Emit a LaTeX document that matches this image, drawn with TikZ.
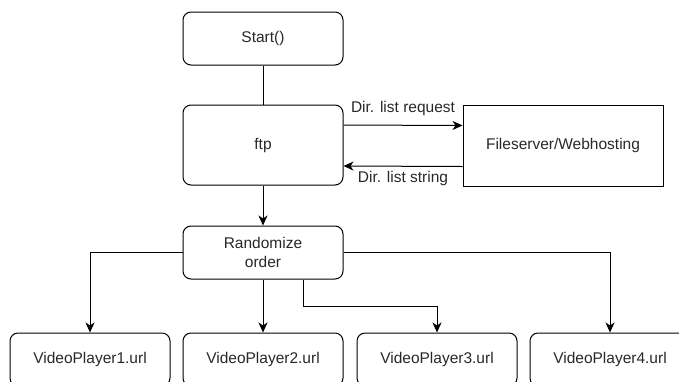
\documentclass[tikz,border=0pt]{standalone}
\usepackage{fontspec}
\setmainfont{Liberation Sans}
\usetikzlibrary{arrows.meta}

\definecolor{txt}{RGB}{40,40,40}
\tikzset{
  blk/.style={draw, rounded corners=8pt, line width=1pt, minimum width=160pt, minimum height=53pt,
              align=center, text=txt, font=\fontsize{15.5}{19}\selectfont, inner sep=0pt},
  srv/.style={blk, rounded corners=0pt, minimum width=200pt, minimum height=81pt},
  lbl/.style={text=txt, font=\fontsize{15.5}{19}\selectfont, inner sep=0pt},
  arr/.style={line width=1pt, -{Stealth[length=10pt, width=9pt, inset=3pt]}}
}

\begin{document}
\begin{tikzpicture}[x=1pt, y=-1pt]
  \useasboundingbox (0,0) rectangle (679,381);
  \clip (0,0) rectangle (679,381);
  % upper part
  \node[blk] (start) at (263,38.5) {Start()};
  \node[blk, minimum height=80pt] (ftp) at (263,145) {ftp};
  \node[srv] (fs) at (563,145.5) {Fileserver/Webhosting};
  \node[blk] (rand) at (263,252.5) {Randomize\\order};
  % players
  \node[blk] (vp1) at (90,359.5) {VideoPlayer1.url};
  \node[blk] (vp2) at (263,359.5) {VideoPlayer2.url};
  \node[blk] (vp3) at (437,359.5) {VideoPlayer3.url};
  \node[blk] (vp4) at (610,359.5) {VideoPlayer4.url};
  % connectors
  \draw[line width=1pt] (start) -- (ftp);
  \draw[arr] ([yshift=20pt]ftp.east) -- ([yshift=20pt]fs.west)
    node[lbl, midway, above=9pt] (req) {Dir. list request};
  \draw[arr] ([yshift=-21pt]fs.west) -- ([yshift=-21pt]ftp.east)
    node[lbl, midway, below=5pt] (str) {Dir. list string};
  \draw[arr] (ftp) -- (rand);
  \draw[arr] (rand.west) -| (vp1.north);
  \draw[arr] (rand) -- (vp2);
  \draw[arr] ([xshift=40pt]rand.south) -- ++(0,27) -| (vp3.north);
  \draw[arr] (rand.east) -| (vp4.north);
\end{tikzpicture}
\end{document}
